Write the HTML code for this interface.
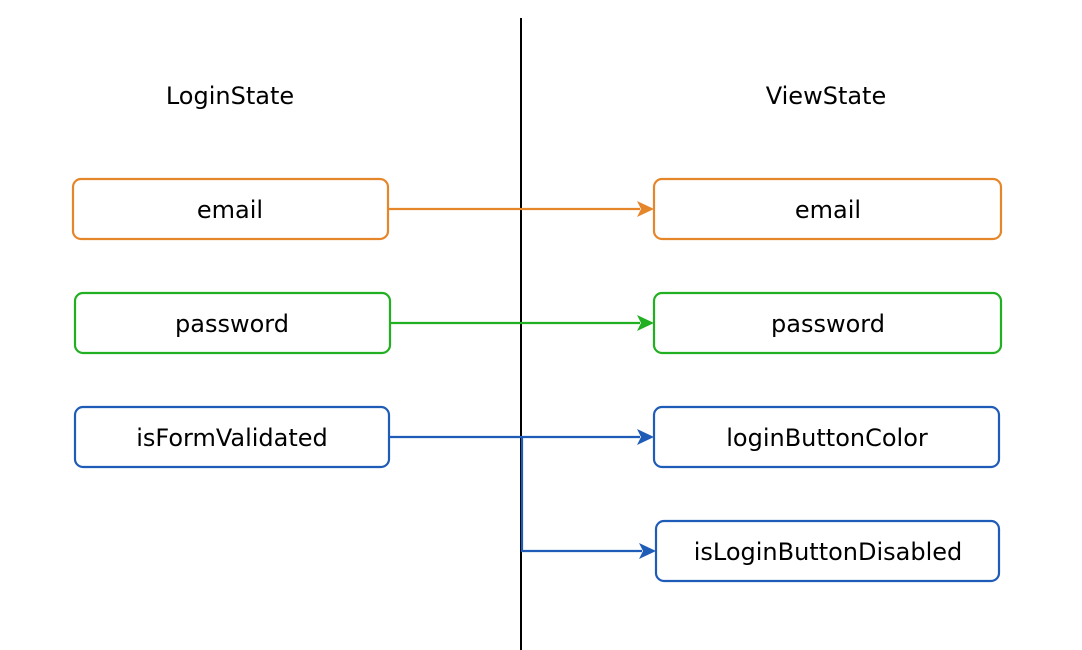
<!DOCTYPE html>
<html><head><style>html,body{margin:0;padding:0;background:#fff;}svg{display:block}</style></head>
<body>
<svg width="1082" height="650" viewBox="0 0 1082 650" xmlns="http://www.w3.org/2000/svg" font-family="'DejaVu Sans', 'Liberation Sans', sans-serif" font-size="24">
<line x1="521" y1="18" x2="521" y2="650" stroke="#000" stroke-width="2"/>
<text x="230" y="104" text-anchor="middle">LoginState</text>
<text x="826" y="104" text-anchor="middle">ViewState</text>
<g fill="none" stroke-width="2.2">
<rect x="73" y="179" width="315" height="60" rx="8" stroke="#e6862a"/>
<rect x="75" y="293" width="315" height="60" rx="8" stroke="#22b022"/>
<rect x="75" y="407" width="314" height="60" rx="8" stroke="#1f5cb8"/>
<rect x="654" y="179" width="347" height="60" rx="8" stroke="#e6862a"/>
<rect x="654" y="293" width="347" height="60" rx="8" stroke="#22b022"/>
<rect x="654" y="407" width="345" height="60" rx="8" stroke="#1f5cb8"/>
<rect x="656" y="521" width="343" height="60" rx="8" stroke="#1f5cb8"/>
<line x1="388" y1="209" x2="640" y2="209" stroke="#e6862a"/>
<line x1="390" y1="323" x2="640" y2="323" stroke="#22b022"/>
<line x1="389" y1="437" x2="640" y2="437" stroke="#1f5cb8"/>
<polyline points="522,437 522,551 642,551" stroke="#1f5cb8"/>
</g>
<path d="M637,201 L654,209 L637,217 L641,209 Z" fill="#e6862a"/>
<path d="M637,315 L654,323 L637,331 L641,323 Z" fill="#22b022"/>
<path d="M637,429 L654,437 L637,445 L641,437 Z" fill="#1f5cb8"/>
<path d="M639,543 L656,551 L639,559 L643,551 Z" fill="#1f5cb8"/>
<g text-anchor="middle" fill="#000">
<text x="230" y="218">email</text>
<text x="232" y="332">password</text>
<text x="232" y="446">isFormValidated</text>
<text x="828" y="218">email</text>
<text x="828" y="332">password</text>
<text x="827" y="446">loginButtonColor</text>
<text x="828" y="560">isLoginButtonDisabled</text>
</g>
</svg>
</body></html>
